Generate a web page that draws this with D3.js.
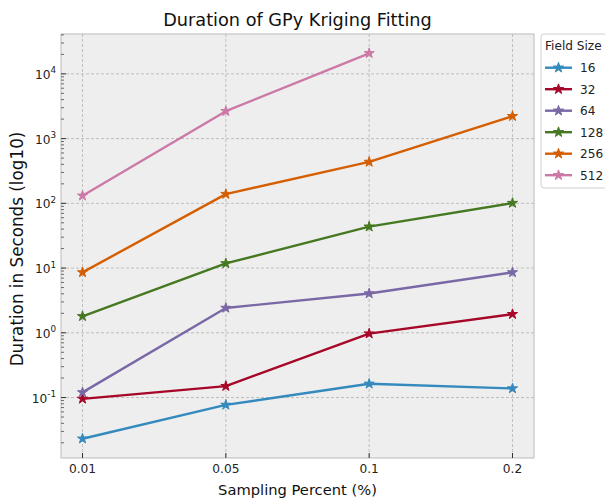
<!DOCTYPE html>
<html><head><meta charset="utf-8">
<script src="https://cdn.jsdelivr.net/npm/d3@7"></script>
<style>body{margin:0;background:#fff}svg{display:block;font-family:"DejaVu Sans",sans-serif}</style>
</head><body><svg id="c" width="605" height="498"></svg>
<script>
const categories = ["0.01", "0.05", "0.1", "0.2"];
const fieldSizes = ["16", "32", "64", "128", "256", "512"];
const s16  = [0.0231, 0.077, 0.163, 0.138];
const s32  = [0.0955, 0.150, 0.972, 1.94];
const s64  = [0.120, 2.42, 4.05, 8.57];
const s128 = [1.80, 11.8, 43.6, 101];
const s256 = [8.57, 139, 436, 2220];
const s512 = [131, 2650, 20800];
const colors = ["#348ABD", "#A60628", "#7A68A6", "#467821", "#D55E00", "#CC79A7"];
const yTickExps = [-1, 0, 1, 2, 3, 4];

const series = [s16, s32, s64, s128, s256, s512];
const svg = d3.select("#c");
const L = 61, R = 534, T = 34, B = 458;

const x = d3.scalePoint().domain(categories).range([L, R]).padding(0.15);
const all = series.flat();
const lmin = Math.log10(d3.min(all)), lmax = Math.log10(d3.max(all));
const m = (lmax - lmin) * 0.05;
const y = d3.scaleLog().domain([Math.pow(10, lmin - m), Math.pow(10, lmax + m)]).range([B, T]);

svg.append("rect").attr("x", L).attr("y", T).attr("width", R - L).attr("height", B - T)
  .attr("fill", "#eeeeee");

// grid
const g = svg.append("g");
categories.forEach(c => {
  g.append("line").attr("x1", x(c)).attr("x2", x(c)).attr("y1", T).attr("y2", B)
    .attr("stroke", "#b2b2b2").attr("stroke-width", 0.8).attr("stroke-dasharray", "3,2");
});
yTickExps.forEach(e => {
  const yy = y(Math.pow(10, e));
  g.append("line").attr("x1", L).attr("x2", R).attr("y1", yy).attr("y2", yy)
    .attr("stroke", "#b2b2b2").attr("stroke-width", 0.8).attr("stroke-dasharray", "3,2");
});

// frame
svg.append("rect").attr("x", L).attr("y", T).attr("width", R - L).attr("height", B - T)
  .attr("fill", "none").attr("stroke", "#bcbcbc").attr("stroke-width", 1);

// y ticks (inside)
const [d0, d1] = y.domain();
for (let e = Math.floor(Math.log10(d0)); e <= Math.ceil(Math.log10(d1)); e++) {
  for (let k = 1; k <= 9; k++) {
    const v = k * Math.pow(10, e);
    if (v < d0 || v > d1) continue;
    const yy = y(v);
    svg.append("line").attr("x1", L).attr("x2", L + (k === 1 ? 5 : 3)).attr("y1", yy).attr("y2", yy)
      .attr("stroke", "#333").attr("stroke-width", k === 1 ? 1 : 0.7);
  }
}
yTickExps.forEach(e => {
  const t = svg.append("text").attr("x", 56).attr("y", y(Math.pow(10, e)) + 5)
    .attr("text-anchor", "end").attr("font-size", 12.2).attr("fill", "#222");
  t.append("tspan").text("10");
  t.append("tspan").attr("font-size", 8.8).attr("dy", -5.5).text(String(e));
});

// x ticks
categories.forEach(c => {
  svg.append("line").attr("x1", x(c)).attr("x2", x(c)).attr("y1", B).attr("y2", B - 5)
    .attr("stroke", "#333").attr("stroke-width", 1);
  svg.append("text").attr("x", x(c)).attr("y", 473).attr("text-anchor", "middle")
    .attr("font-size", 12.2).attr("fill", "#222").text(c);
});

// lines
const line = d3.line().x((d, i) => x(categories[i])).y(d => y(d));
const star = d3.symbol().type(d3.symbolStar).size(32);
series.forEach((s, i) => {
  svg.append("path").attr("d", line(s)).attr("fill", "none")
    .attr("stroke", colors[i]).attr("stroke-width", 2.4).attr("stroke-linejoin", "round");
  s.forEach((v, j) => {
    svg.append("path").attr("d", star())
      .attr("transform", `translate(${x(categories[j])},${y(v)})`)
      .attr("fill", colors[i]).attr("stroke", colors[i]).attr("stroke-width", 1);
  });
});

// title and labels
svg.append("text").attr("x", (L + R) / 2).attr("y", 26).attr("text-anchor", "middle")
  .attr("font-size", 17.7).attr("fill", "#111").text("Duration of GPy Kriging Fitting");
svg.append("text").attr("x", (L + R) / 2).attr("y", 495).attr("text-anchor", "middle")
  .attr("font-size", 14.7).attr("fill", "#111").text("Sampling Percent (%)");
svg.append("text").attr("transform", `translate(22.5,249) rotate(-90)`)
  .attr("text-anchor", "middle").attr("font-size", 16.8).attr("fill", "#111")
  .text("Duration in Seconds (log10)");

// legend
const lg = svg.append("g");
lg.append("rect").attr("x", 541).attr("y", 34).attr("width", 80).attr("height", 154)
  .attr("rx", 3).attr("fill", "#fff").attr("fill-opacity", 0.85)
  .attr("stroke", "#d0d0d0").attr("stroke-width", 1);
lg.append("text").attr("x", 545).attr("y", 50).attr("font-size", 12.1).attr("fill", "#222").text("Field Size");
fieldSizes.forEach((f, i) => {
  const yy = 67.7 + i * 21.5;
  lg.append("line").attr("x1", 545).attr("x2", 572).attr("y1", yy).attr("y2", yy)
    .attr("stroke", colors[i]).attr("stroke-width", 2.4);
  lg.append("path").attr("d", star()).attr("transform", `translate(558.5,${yy})`)
    .attr("fill", colors[i]).attr("stroke", colors[i]).attr("stroke-width", 1);
  lg.append("text").attr("x", 580).attr("y", yy + 4.5).attr("font-size", 12.1).attr("fill", "#222").text(f);
});
</script></body></html>
